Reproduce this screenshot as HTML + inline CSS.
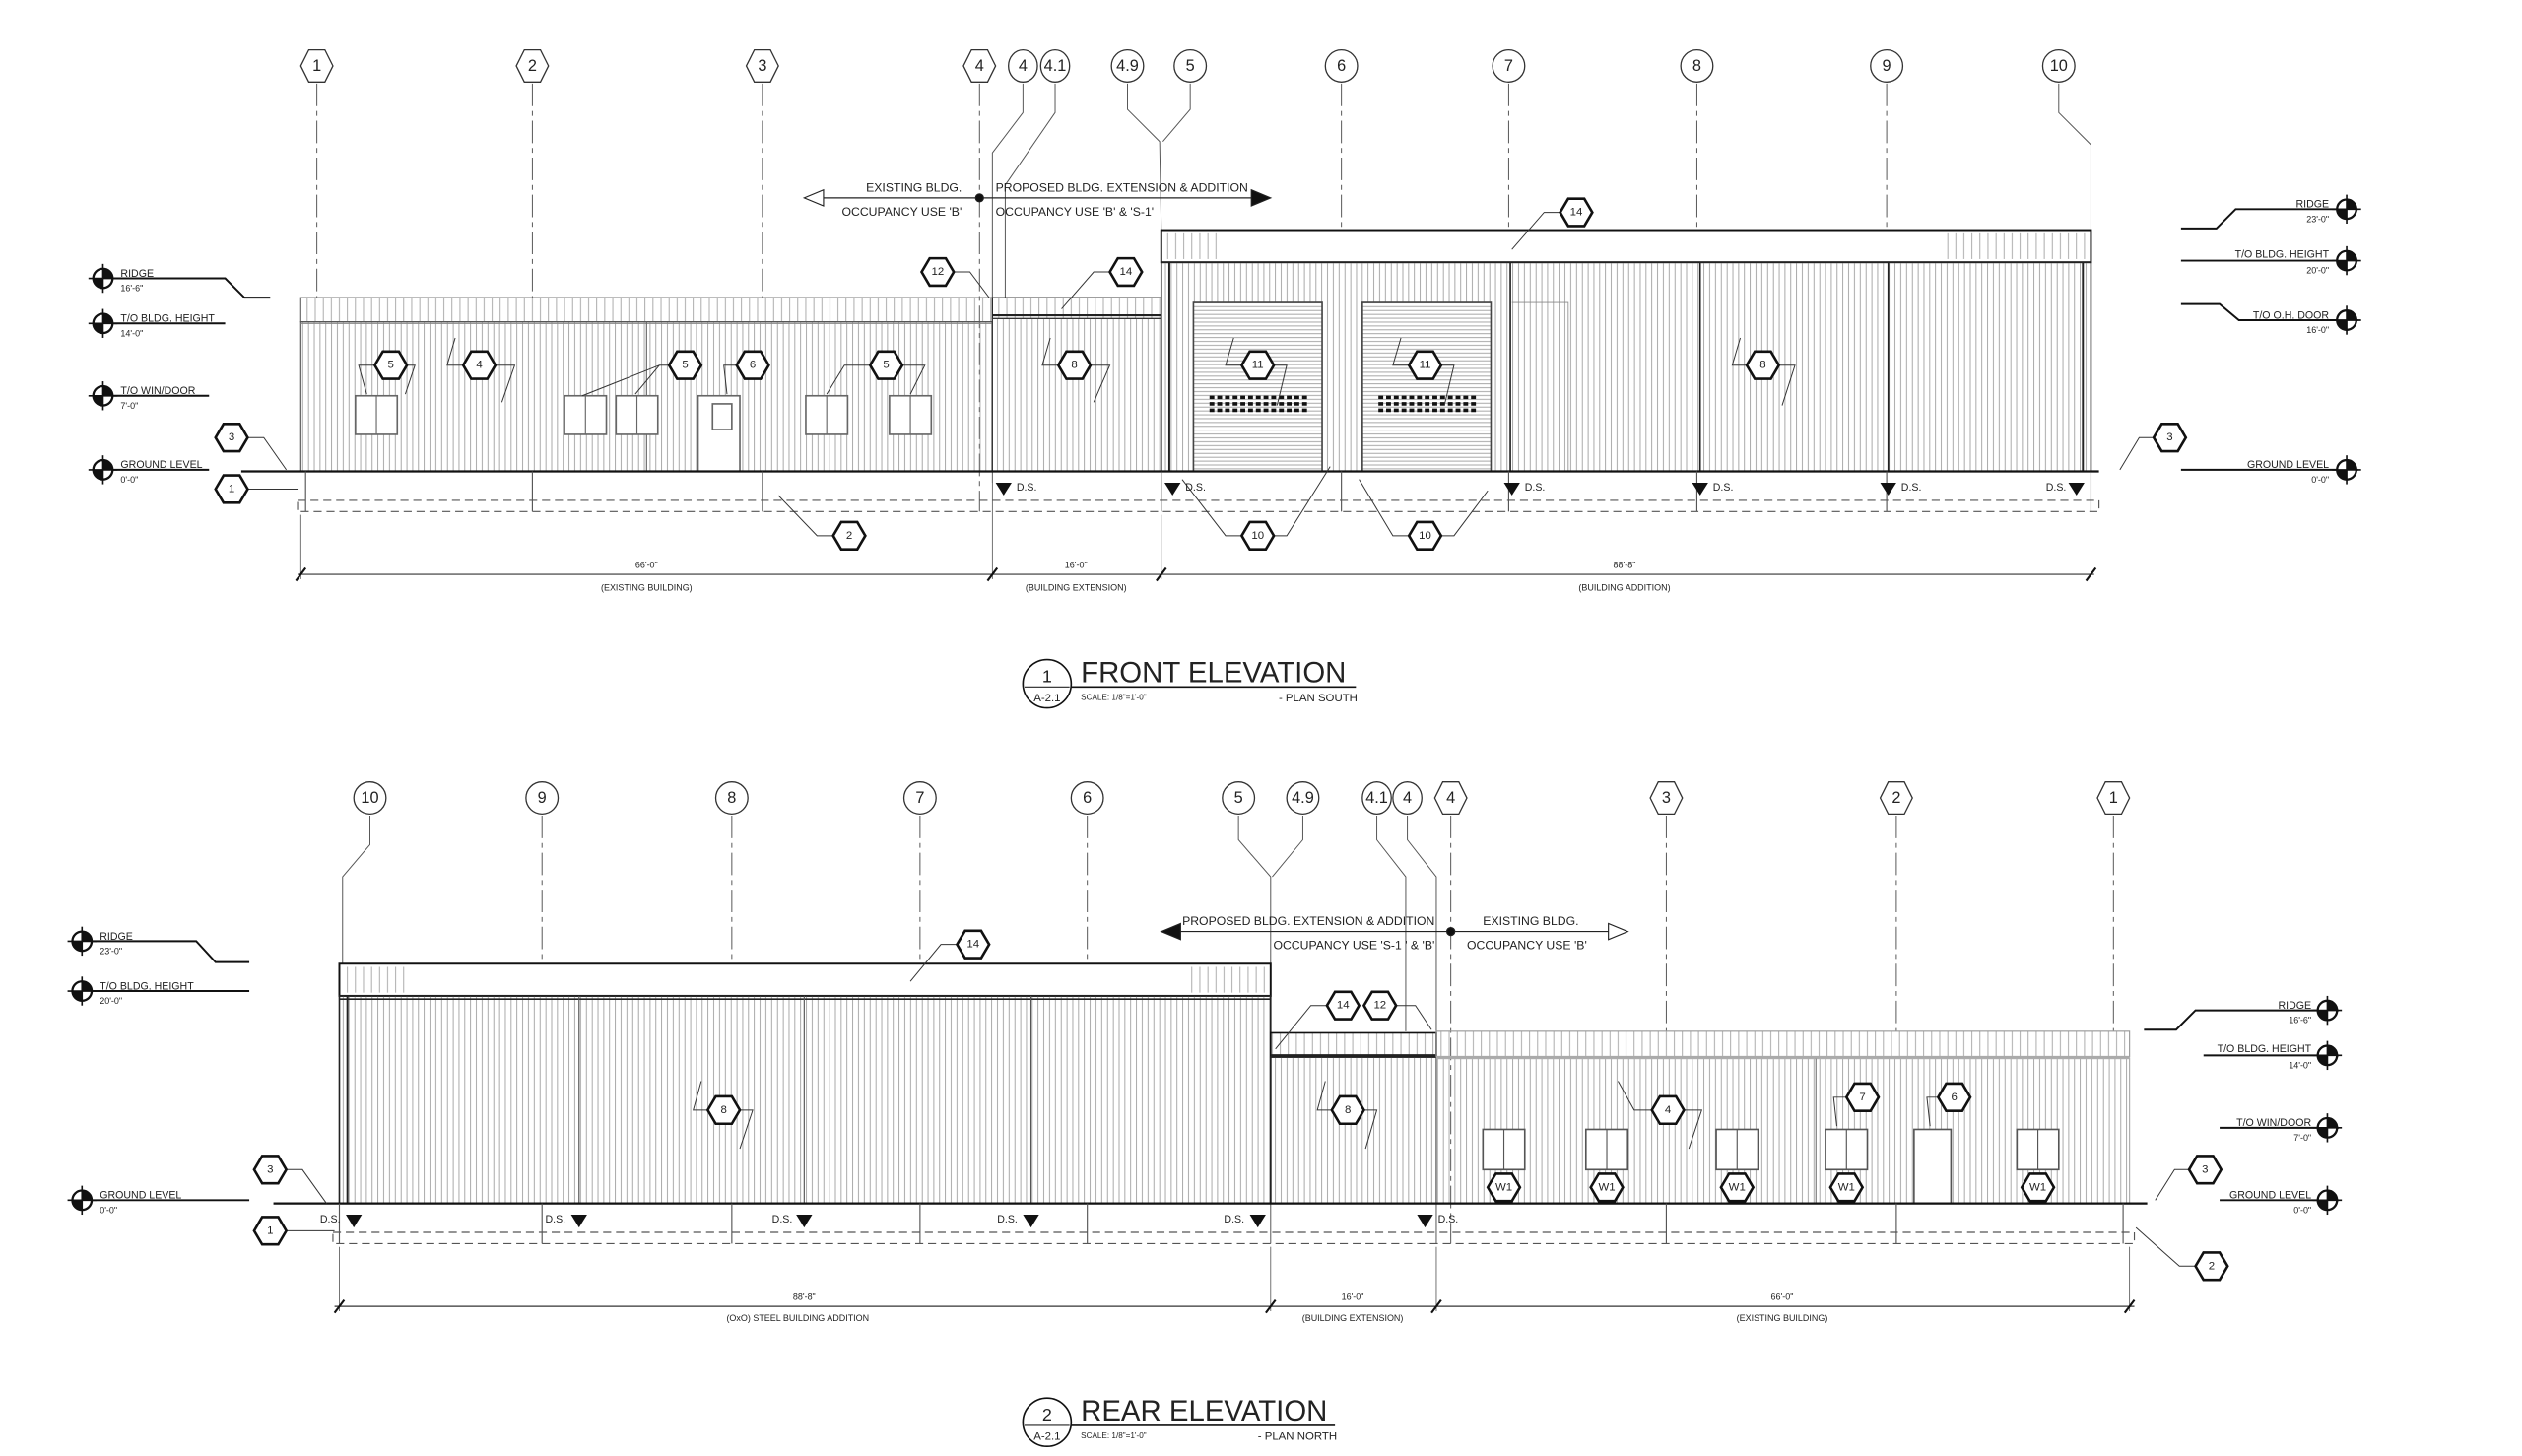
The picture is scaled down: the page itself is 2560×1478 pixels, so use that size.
<!DOCTYPE html>
<html><head><meta charset="utf-8"><style>
html,body{margin:0;padding:0;background:#fff;}
svg{display:block;}
text{font-family:"Liberation Sans",sans-serif;fill:#222;}
</style></head><body>
<svg width="2560" height="1478" viewBox="0 0 1568 905" preserveAspectRatio="none" xmlns="http://www.w3.org/2000/svg">
<defs>
<pattern id="sid" width="3.6" height="10" patternUnits="userSpaceOnUse"><line x1="1" y1="0" x2="1" y2="10" stroke="#8a8a8a" stroke-width="0.45"/></pattern>
<pattern id="sidr" width="5" height="10" patternUnits="userSpaceOnUse"><line x1="1" y1="0" x2="1" y2="10" stroke="#999" stroke-width="0.5"/></pattern>
<pattern id="louv" width="10" height="2.4" patternUnits="userSpaceOnUse"><rect width="10" height="2.4" fill="#fff"/><line x1="0" y1="1" x2="10" y2="1" stroke="#999" stroke-width="0.5"/></pattern>
<polygon id="hx" points="-10,0 -5,-8.5 5,-8.5 10,0 5,8.5 -5,8.5" fill="#fff" stroke="#111" stroke-width="1.6"/>
<g id="lvl"><circle r="6" fill="#fff" stroke="#111" stroke-width="1.4"/><path d="M0,-6A6,6 0 0 1 6,0L0,0Z M0,6A6,6 0 0 1 -6,0L0,0Z" fill="#111"/><line x1="-9" y1="0" x2="9" y2="0" stroke="#111" stroke-width="1"/><line x1="0" y1="-9" x2="0" y2="9" stroke="#111" stroke-width="1"/></g>
<polygon id="ds" points="-5,0 5,0 0,8" fill="#111"/>
</defs>
<g fill="none" stroke="#222" stroke-width="0.7">
<g stroke="#555" stroke-width="0.6" stroke-dasharray="14,3,3,3">
<line x1="197" y1="52" x2="197" y2="185"/><line x1="331" y1="52" x2="331" y2="185"/><line x1="474" y1="52" x2="474" y2="185"/>
<line x1="609" y1="52" x2="609" y2="318"/>
<line x1="834" y1="52" x2="834" y2="143"/><line x1="938" y1="52" x2="938" y2="143"/><line x1="1055" y1="52" x2="1055" y2="143"/><line x1="1173" y1="52" x2="1173" y2="143"/>
</g>
<g stroke="#555" stroke-width="0.6">
<polyline points="636,52 636,70 617,95 617,300"/><polyline points="656,52 656,70 625,115 625,185"/>
<polyline points="701,52 701,68 721,88 722,143"/><polyline points="740,52 740,68 723,88"/>
<polyline points="1280,52 1280,70 1300,90 1300,143"/>
</g>
<g fill="#fff" stroke="#333" stroke-width="0.8">
<polygon points="187,41 192,31 202,31 207,41 202,51 192,51"/><polygon points="321,41 326,31 336,31 341,41 336,51 326,51"/><polygon points="464,41 469,31 479,31 484,41 479,51 469,51"/><polygon points="599,41 604,31 614,31 619,41 614,51 604,51"/>
<ellipse cx="636" cy="41" rx="9" ry="10"/><ellipse cx="656" cy="41" rx="9" ry="10"/><ellipse cx="701" cy="41" rx="10" ry="10"/><ellipse cx="740" cy="41" rx="10" ry="10"/><ellipse cx="834" cy="41" rx="10" ry="10"/><ellipse cx="938" cy="41" rx="10" ry="10"/><ellipse cx="1055" cy="41" rx="10" ry="10"/><ellipse cx="1173" cy="41" rx="10" ry="10"/><ellipse cx="1280" cy="41" rx="10" ry="10"/>
</g>
<line x1="502" y1="123" x2="782" y2="123" stroke="#222"/><polygon points="500,123 512,118 512,128" fill="#fff"/><polygon points="790,123 778,118 778,128" fill="#111"/><circle cx="609" cy="123" r="2.5" fill="#111"/>
<rect x="187" y="185" width="430" height="15" fill="url(#sidr)" stroke="#666"/>
<rect x="187" y="200" width="430" height="93" fill="url(#sid)" stroke="#555"/>
<line x1="187" y1="201" x2="617" y2="201" stroke="#888"/><line x1="402" y1="200" x2="402" y2="293" stroke="#666"/>
<rect x="617" y="185" width="105" height="13" fill="url(#sidr)" stroke="#222"/><line x1="617" y1="196" x2="722" y2="196" stroke-width="1.3"/>
<rect x="617" y="198" width="105" height="95" fill="url(#sid)" stroke="#333"/>
<rect x="722" y="143" width="578" height="20" fill="#fff" stroke="#111" stroke-width="1.2"/>
<rect x="724" y="145" width="35" height="16" fill="url(#sidr)" stroke="none"/><rect x="1210" y="145" width="88" height="16" fill="url(#sidr)" stroke="none"/>
<rect x="722" y="163" width="578" height="130" fill="url(#sid)" stroke="#222" stroke-width="1"/>
<line x1="727" y1="163" x2="727" y2="293" stroke-width="1.2"/><line x1="1295" y1="163" x2="1295" y2="293" stroke-width="1.2"/>
<line x1="939" y1="163" x2="939" y2="293" stroke-width="1"/><line x1="1057" y1="163" x2="1057" y2="293" stroke-width="1"/><line x1="1174" y1="163" x2="1174" y2="293" stroke-width="1"/>
<rect x="742" y="188" width="80" height="105" fill="url(#louv)" stroke="#444" stroke-width="1"/><rect x="847" y="188" width="80" height="105" fill="url(#louv)" stroke="#444" stroke-width="1"/>
<g stroke="#111" stroke-width="2.2" stroke-dasharray="3,1.8"><line x1="752" y1="247" x2="813" y2="247"/><line x1="752" y1="251" x2="813" y2="251"/><line x1="752" y1="255" x2="813" y2="255"/><line x1="857" y1="247" x2="918" y2="247"/><line x1="857" y1="251" x2="918" y2="251"/><line x1="857" y1="255" x2="918" y2="255"/></g>
<polyline points="940,188 975,188 975,293" stroke="#888" stroke-width="0.5"/>
<g fill="#fff" stroke="#666" stroke-width="1"><rect x="221" y="246" width="26" height="24"/><rect x="351" y="246" width="26" height="24"/><rect x="383" y="246" width="26" height="24"/><rect x="501" y="246" width="26" height="24"/><rect x="553" y="246" width="26" height="24"/><rect x="434" y="246" width="26" height="47"/><rect x="443" y="251" width="12" height="16"/></g>
<g stroke="#666"><line x1="234" y1="246" x2="234" y2="270"/><line x1="364" y1="246" x2="364" y2="270"/><line x1="396" y1="246" x2="396" y2="270"/><line x1="514" y1="246" x2="514" y2="270"/><line x1="566" y1="246" x2="566" y2="270"/></g>
<line x1="150" y1="293" x2="1305" y2="293" stroke="#111" stroke-width="1.4"/>
<rect x="185" y="311" width="1120" height="7" stroke="#555" stroke-dasharray="5,3"/>
<g stroke="#555"><line x1="190" y1="293" x2="190" y2="318"/><line x1="331" y1="293" x2="331" y2="318"/><line x1="474" y1="293" x2="474" y2="318"/><line x1="722" y1="293" x2="722" y2="318"/><line x1="834" y1="293" x2="834" y2="318"/><line x1="938" y1="293" x2="938" y2="318"/><line x1="1055" y1="293" x2="1055" y2="318"/><line x1="1173" y1="293" x2="1173" y2="318"/><line x1="1300" y1="293" x2="1300" y2="318"/></g>
<g stroke="none"><use href="#ds" x="624" y="300"/><use href="#ds" x="729" y="300"/><use href="#ds" x="940" y="300"/><use href="#ds" x="1057" y="300"/><use href="#ds" x="1174" y="300"/><use href="#ds" x="1291" y="300"/></g>
<line x1="185" y1="357" x2="1302" y2="357" stroke="#333"/>
<g stroke="#555" stroke-width="0.5"><line x1="187" y1="320" x2="187" y2="360"/><line x1="617" y1="300" x2="617" y2="360"/><line x1="722" y1="320" x2="722" y2="360"/><line x1="1300" y1="320" x2="1300" y2="360"/></g>
<g stroke="#111" stroke-width="1.3"><line x1="184" y1="361" x2="190" y2="353"/><line x1="614" y1="361" x2="620" y2="353"/><line x1="719" y1="361" x2="725" y2="353"/><line x1="1297" y1="361" x2="1303" y2="353"/></g>
<circle cx="651" cy="425" r="15" stroke="#111" stroke-width="1"/><line x1="637" y1="427" x2="665" y2="427"/><line x1="666" y1="427" x2="843" y2="427" stroke="#111" stroke-width="1"/>
<g stroke="#111" stroke-width="1.2">
<polyline points="58,173 140,173 152,185 168,185"/><line x1="58" y1="201" x2="140" y2="201"/><line x1="58" y1="246" x2="130" y2="246"/><line x1="58" y1="292" x2="130" y2="292"/>
<polyline points="1466,130 1390,130 1378,142 1356,142"/><line x1="1466" y1="162" x2="1356" y2="162"/><polyline points="1466,199 1392,199 1380,189 1356,189"/><line x1="1466" y1="292" x2="1356" y2="292"/>
</g>
<g stroke="none"><use href="#lvl" x="64" y="173"/><use href="#lvl" x="64" y="201"/><use href="#lvl" x="64" y="246"/><use href="#lvl" x="64" y="292"/><use href="#lvl" x="1459" y="130"/><use href="#lvl" x="1459" y="162"/><use href="#lvl" x="1459" y="199"/><use href="#lvl" x="1459" y="292"/></g>
<g stroke="#333" stroke-width="0.6">
<polyline points="233,227 223,227 228,245"/><polyline points="253,227 258,227 252,245"/>
<polyline points="288,227 278,227 283,210"/><polyline points="308,227 320,227 312,250"/>
<polyline points="416,227 410,227 362,246"/><line x1="410" y1="227" x2="395" y2="245"/>
<polyline points="458,227 450,227 452,245"/>
<polyline points="541,227 525,227 514,245"/><polyline points="561,227 575,227 566,245"/>
<polyline points="658,227 648,227 653,210"/><polyline points="678,227 690,227 680,250"/>
<polyline points="772,227 762,227 767,210"/><polyline points="792,227 800,227 794,252"/>
<polyline points="876,227 866,227 871,210"/><polyline points="896,227 904,227 898,252"/>
<polyline points="1086,227 1077,227 1082,210"/><polyline points="1106,227 1116,227 1108,252"/>
<polyline points="593,169 603,169 615,185"/><polyline points="690,169 680,169 660,192"/><polyline points="970,132 960,132 940,155"/>
<polyline points="154,272 164,272 178,292"/><line x1="154" y1="304" x2="185" y2="304"/><polyline points="518,333 508,333 484,308"/>
<polyline points="772,333 762,333 735,298"/><polyline points="792,333 800,333 827,290"/><polyline points="876,333 866,333 845,298"/><polyline points="896,333 904,333 925,305"/>
<polyline points="1339,272 1330,272 1318,292"/>
</g>
<!-- REAR -->
<g stroke="#555" stroke-width="0.6" stroke-dasharray="14,3,3,3">
<line x1="337" y1="507" x2="337" y2="599"/><line x1="455" y1="507" x2="455" y2="599"/><line x1="572" y1="507" x2="572" y2="599"/><line x1="676" y1="507" x2="676" y2="599"/>
<line x1="902" y1="507" x2="902" y2="773"/><line x1="1036" y1="507" x2="1036" y2="641"/><line x1="1179" y1="507" x2="1179" y2="641"/><line x1="1314" y1="507" x2="1314" y2="641"/>
</g>
<g stroke="#555" stroke-width="0.6">
<polyline points="230,507 230,525 213,545 213,599"/>
<polyline points="770,507 770,522 790,545 790,773"/><polyline points="810,507 810,522 791,545"/>
<polyline points="856,507 856,522 874,545 874,641"/><polyline points="875,507 875,522 893,545 893,773"/>
</g>
<g fill="#fff" stroke="#333" stroke-width="0.8">
<ellipse cx="230" cy="496" rx="10" ry="10"/><ellipse cx="337" cy="496" rx="10" ry="10"/><ellipse cx="455" cy="496" rx="10" ry="10"/><ellipse cx="572" cy="496" rx="10" ry="10"/><ellipse cx="676" cy="496" rx="10" ry="10"/><ellipse cx="770" cy="496" rx="10" ry="10"/><ellipse cx="810" cy="496" rx="10" ry="10"/><ellipse cx="856" cy="496" rx="9" ry="10"/><ellipse cx="875" cy="496" rx="9" ry="10"/>
<polygon points="892,496 897,486 907,486 912,496 907,506 897,506"/><polygon points="1026,496 1031,486 1041,486 1046,496 1041,506 1031,506"/><polygon points="1169,496 1174,486 1184,486 1189,496 1184,506 1174,506"/><polygon points="1304,496 1309,486 1319,486 1324,496 1319,506 1309,506"/>
</g>
<line x1="730" y1="579" x2="1004" y2="579" stroke="#222"/><polygon points="722,579 734,574 734,584" fill="#111"/><polygon points="1012,579 1000,574 1000,584" fill="#fff"/><circle cx="902" cy="579" r="2.5" fill="#111"/>
<rect x="211" y="599" width="579" height="20" fill="#fff" stroke="#111" stroke-width="1.2"/>
<rect x="213" y="601" width="40" height="16" fill="url(#sidr)" stroke="none"/><rect x="738" y="601" width="50" height="16" fill="url(#sidr)" stroke="none"/>
<rect x="211" y="619" width="579" height="129" fill="url(#sid)" stroke="#222" stroke-width="1"/>
<line x1="216" y1="619" x2="216" y2="748" stroke-width="1.2"/><line x1="211" y1="621" x2="790" y2="621" stroke-width="1"/>
<g stroke="#555"><line x1="360" y1="619" x2="360" y2="748"/><line x1="500" y1="619" x2="500" y2="748"/><line x1="641" y1="619" x2="641" y2="748"/></g>
<rect x="790" y="642" width="103" height="15" fill="url(#sidr)" stroke="#111" stroke-width="1"/><line x1="790" y1="656" x2="893" y2="656" stroke-width="1.5"/>
<rect x="790" y="657" width="103" height="91" fill="url(#sid)" stroke="#222" stroke-width="1"/>
<rect x="893" y="641" width="431" height="16" fill="url(#sidr)" stroke="#999"/><line x1="893" y1="657" x2="1324" y2="657" stroke="#aaa" stroke-width="1.3"/>
<rect x="893" y="658" width="431" height="90" fill="url(#sid)" stroke="#aaa"/><line x1="1129" y1="658" x2="1129" y2="748" stroke="#777"/>
<g fill="#fff" stroke="#555" stroke-width="1"><rect x="922" y="702" width="26" height="25"/><rect x="986" y="702" width="26" height="25"/><rect x="1067" y="702" width="26" height="25"/><rect x="1135" y="702" width="26" height="25"/><rect x="1254" y="702" width="26" height="25"/><rect x="1190" y="702" width="23" height="46"/></g>
<g stroke="#555"><line x1="935" y1="702" x2="935" y2="727"/><line x1="999" y1="702" x2="999" y2="727"/><line x1="1080" y1="702" x2="1080" y2="727"/><line x1="1148" y1="702" x2="1148" y2="727"/><line x1="1267" y1="702" x2="1267" y2="727"/></g>
<line x1="170" y1="748" x2="1335" y2="748" stroke="#111" stroke-width="1.4"/>
<rect x="207" y="766" width="1120" height="7" stroke="#555" stroke-dasharray="5,3"/>
<g stroke="#555"><line x1="211" y1="748" x2="211" y2="773"/><line x1="337" y1="748" x2="337" y2="773"/><line x1="455" y1="748" x2="455" y2="773"/><line x1="572" y1="748" x2="572" y2="773"/><line x1="676" y1="748" x2="676" y2="773"/><line x1="1036" y1="748" x2="1036" y2="773"/><line x1="1179" y1="748" x2="1179" y2="773"/><line x1="1320" y1="748" x2="1320" y2="773"/></g>
<g stroke="none"><use href="#ds" x="220" y="755"/><use href="#ds" x="360" y="755"/><use href="#ds" x="500" y="755"/><use href="#ds" x="641" y="755"/><use href="#ds" x="782" y="755"/><use href="#ds" x="886" y="755"/></g>
<line x1="208" y1="812" x2="1327" y2="812" stroke="#333"/>
<g stroke="#555" stroke-width="0.5"><line x1="211" y1="775" x2="211" y2="815"/><line x1="790" y1="775" x2="790" y2="815"/><line x1="893" y1="775" x2="893" y2="815"/><line x1="1324" y1="775" x2="1324" y2="815"/></g>
<g stroke="#111" stroke-width="1.3"><line x1="208" y1="816" x2="214" y2="808"/><line x1="787" y1="816" x2="793" y2="808"/><line x1="890" y1="816" x2="896" y2="808"/><line x1="1321" y1="816" x2="1327" y2="808"/></g>
<circle cx="651" cy="884" r="15" stroke="#111" stroke-width="1"/><line x1="637" y1="886" x2="665" y2="886"/><line x1="666" y1="886" x2="830" y2="886" stroke="#111" stroke-width="1"/>
<g stroke="#111" stroke-width="1.2">
<polyline points="45,585 122,585 134,598 155,598"/><line x1="45" y1="616" x2="155" y2="616"/><line x1="45" y1="746" x2="155" y2="746"/>
<polyline points="1454,628 1365,628 1353,640 1333,640"/><line x1="1454" y1="656" x2="1370" y2="656"/><line x1="1454" y1="701" x2="1380" y2="701"/><line x1="1454" y1="746" x2="1380" y2="746"/>
</g>
<g stroke="none"><use href="#lvl" x="51" y="585"/><use href="#lvl" x="51" y="616"/><use href="#lvl" x="51" y="746"/><use href="#lvl" x="1447" y="628"/><use href="#lvl" x="1447" y="656"/><use href="#lvl" x="1447" y="701"/><use href="#lvl" x="1447" y="746"/></g>
<g stroke="#333" stroke-width="0.6">
<polyline points="595,587 585,587 566,610"/><polyline points="825,625 815,625 793,652"/><polyline points="868,625 880,625 890,640"/>
<polyline points="440,690 431,690 436,672"/><polyline points="460,690 468,690 460,714"/>
<polyline points="828,690 819,690 824,672"/><polyline points="848,690 856,690 849,714"/>
<polyline points="1027,690 1016,690 1006,672"/><polyline points="1047,690 1058,690 1050,714"/>
<polyline points="1148,682 1140,682 1142,700"/><polyline points="1205,682 1198,682 1200,700"/>
<polyline points="178,727 188,727 203,748"/><line x1="178" y1="765" x2="208" y2="765"/>
<polyline points="1361,727 1352,727 1340,746"/><polyline points="1365,787 1355,787 1328,763"/>
</g>
</g>
<g>
<use href="#hx" x="243" y="227"/><use href="#hx" x="298" y="227"/><use href="#hx" x="426" y="227"/><use href="#hx" x="468" y="227"/><use href="#hx" x="551" y="227"/><use href="#hx" x="668" y="227"/><use href="#hx" x="782" y="227"/><use href="#hx" x="886" y="227"/><use href="#hx" x="1096" y="227"/>
<use href="#hx" x="583" y="169"/><use href="#hx" x="700" y="169"/><use href="#hx" x="980" y="132"/><use href="#hx" x="144" y="272"/><use href="#hx" x="144" y="304"/><use href="#hx" x="528" y="333"/><use href="#hx" x="782" y="333"/><use href="#hx" x="886" y="333"/><use href="#hx" x="1349" y="272"/>
<use href="#hx" x="605" y="587"/><use href="#hx" x="835" y="625"/><use href="#hx" x="858" y="625"/><use href="#hx" x="450" y="690"/><use href="#hx" x="838" y="690"/><use href="#hx" x="1037" y="690"/><use href="#hx" x="1158" y="682"/><use href="#hx" x="1215" y="682"/><use href="#hx" x="168" y="727"/><use href="#hx" x="168" y="765"/><use href="#hx" x="1371" y="727"/><use href="#hx" x="1375" y="787"/>
<use href="#hx" x="935" y="738"/><use href="#hx" x="999" y="738"/><use href="#hx" x="1080" y="738"/><use href="#hx" x="1148" y="738"/><use href="#hx" x="1267" y="738"/>
</g>
<g font-size="7" text-anchor="middle" dominant-baseline="central">
<text x="243" y="227">5</text><text x="298" y="227">4</text><text x="426" y="227">5</text><text x="468" y="227">6</text><text x="551" y="227">5</text><text x="668" y="227">8</text><text x="782" y="227">11</text><text x="886" y="227">11</text><text x="1096" y="227">8</text>
<text x="583" y="169">12</text><text x="700" y="169">14</text><text x="980" y="132">14</text><text x="144" y="272">3</text><text x="144" y="304">1</text><text x="528" y="333">2</text><text x="782" y="333">10</text><text x="886" y="333">10</text><text x="1349" y="272">3</text>
<text x="605" y="587">14</text><text x="835" y="625">14</text><text x="858" y="625">12</text><text x="450" y="690">8</text><text x="838" y="690">8</text><text x="1037" y="690">4</text><text x="1158" y="682">7</text><text x="1215" y="682">6</text><text x="168" y="727">3</text><text x="168" y="765">1</text><text x="1371" y="727">3</text><text x="1375" y="787">2</text>
<text x="935" y="738">W1</text><text x="999" y="738">W1</text><text x="1080" y="738">W1</text><text x="1148" y="738">W1</text><text x="1267" y="738">W1</text>
</g>
<g font-size="10" text-anchor="middle" dominant-baseline="central">
<text x="197" y="41">1</text><text x="331" y="41">2</text><text x="474" y="41">3</text><text x="609" y="41">4</text><text x="636" y="41">4</text><text x="656" y="41">4.1</text><text x="701" y="41">4.9</text><text x="740" y="41">5</text><text x="834" y="41">6</text><text x="938" y="41">7</text><text x="1055" y="41">8</text><text x="1173" y="41">9</text><text x="1280" y="41">10</text>
<text x="230" y="496">10</text><text x="337" y="496">9</text><text x="455" y="496">8</text><text x="572" y="496">7</text><text x="676" y="496">6</text><text x="770" y="496">5</text><text x="810" y="496">4.9</text><text x="856" y="496">4.1</text><text x="875" y="496">4</text><text x="902" y="496">4</text><text x="1036" y="496">3</text><text x="1179" y="496">2</text><text x="1314" y="496">1</text>
</g>
<g font-size="7.5">
<text x="598" y="119" text-anchor="end">EXISTING BLDG.</text><text x="598" y="134" text-anchor="end">OCCUPANCY USE 'B'</text>
<text x="619" y="119">PROPOSED  BLDG. EXTENSION &amp; ADDITION</text><text x="619" y="134">OCCUPANCY USE 'B' &amp; 'S-1'</text>
<text x="892" y="575" text-anchor="end">PROPOSED  BLDG. EXTENSION &amp; ADDITION</text><text x="892" y="590" text-anchor="end">OCCUPANCY USE 'S-1 '  &amp;  'B'</text>
<text x="922" y="575">EXISTING BLDG.</text><text x="912" y="590">OCCUPANCY USE 'B'</text>
</g>
<g font-size="6.5">
<text x="75" y="172">RIDGE</text><text x="75" y="181" font-size="5.5">16'-6"</text>
<text x="75" y="200">T/O BLDG. HEIGHT</text><text x="75" y="209" font-size="5.5">14'-0"</text>
<text x="75" y="245">T/O WIN/DOOR</text><text x="75" y="254" font-size="5.5">7'-0"</text>
<text x="75" y="291">GROUND LEVEL</text><text x="75" y="300" font-size="5.5">0'-0"</text>
<g text-anchor="end"><text x="1448" y="129">RIDGE</text><text x="1448" y="138" font-size="5.5">23'-0"</text>
<text x="1448" y="160">T/O BLDG. HEIGHT</text><text x="1448" y="170" font-size="5.5">20'-0"</text>
<text x="1448" y="198">T/O O.H. DOOR</text><text x="1448" y="207" font-size="5.5">16'-0"</text>
<text x="1448" y="291">GROUND LEVEL</text><text x="1448" y="300" font-size="5.5">0'-0"</text>
<text x="1437" y="627">RIDGE</text><text x="1437" y="636" font-size="5.5">16'-6"</text>
<text x="1437" y="654">T/O BLDG. HEIGHT</text><text x="1437" y="664" font-size="5.5">14'-0"</text>
<text x="1437" y="700">T/O WIN/DOOR</text><text x="1437" y="709" font-size="5.5">7'-0"</text>
<text x="1437" y="745">GROUND LEVEL</text><text x="1437" y="754" font-size="5.5">0'-0"</text></g>
<text x="62" y="584">RIDGE</text><text x="62" y="593" font-size="5.5">23'-0"</text>
<text x="62" y="615">T/O BLDG. HEIGHT</text><text x="62" y="624" font-size="5.5">20'-0"</text>
<text x="62" y="745">GROUND LEVEL</text><text x="62" y="754" font-size="5.5">0'-0"</text>
</g>
<g font-size="6.5">
<text x="632" y="305">D.S.</text><text x="737" y="305">D.S.</text><text x="948" y="305">D.S.</text><text x="1065" y="305">D.S.</text><text x="1182" y="305">D.S.</text><text x="1272" y="305">D.S.</text>
<text x="199" y="760">D.S.</text><text x="339" y="760">D.S.</text><text x="480" y="760">D.S.</text><text x="620" y="760">D.S.</text><text x="761" y="760">D.S.</text><text x="894" y="760">D.S.</text>
</g>
<g font-size="5.5" text-anchor="middle" fill="#444">
<text x="402" y="353">66'-0"</text><text x="402" y="367">(EXISTING BUILDING)</text>
<text x="669" y="353">16'-0"</text><text x="669" y="367">(BUILDING EXTENSION)</text>
<text x="1010" y="353">88'-8"</text><text x="1010" y="367">(BUILDING ADDITION)</text>
<text x="500" y="808">88'-8"</text><text x="496" y="821">(OxO) STEEL BUILDING ADDITION</text>
<text x="841" y="808">16'-0"</text><text x="841" y="821">(BUILDING EXTENSION)</text>
<text x="1108" y="808">66'-0"</text><text x="1108" y="821">(EXISTING BUILDING)</text>
</g>
<g>
<text x="651" y="424" font-size="11" text-anchor="middle">1</text><text x="651" y="436" font-size="7" text-anchor="middle">A-2.1</text>
<text x="672" y="424" font-size="18">FRONT ELEVATION</text><text x="672" y="435" font-size="5">SCALE: 1/8"=1'-0"</text><text x="795" y="436" font-size="7">- PLAN SOUTH</text>
<text x="651" y="883" font-size="11" text-anchor="middle">2</text><text x="651" y="895" font-size="7" text-anchor="middle">A-2.1</text>
<text x="672" y="883" font-size="18">REAR ELEVATION</text><text x="672" y="894" font-size="5">SCALE: 1/8"=1'-0"</text><text x="782" y="895" font-size="7">- PLAN NORTH</text>
</g>
</svg>
</body></html>
